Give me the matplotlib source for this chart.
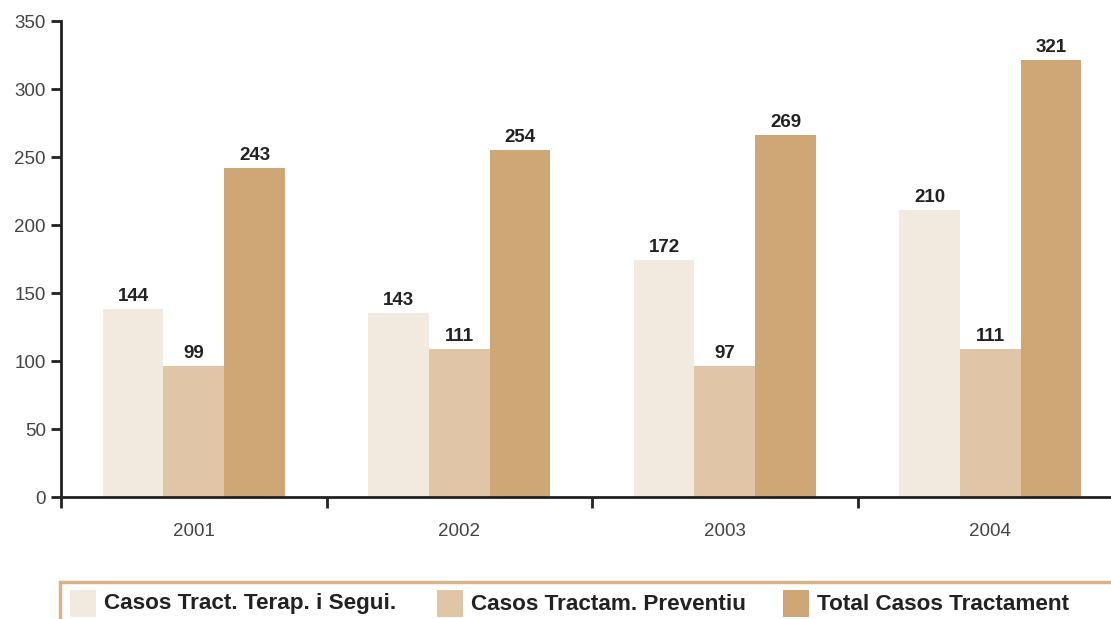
import numpy as np
import matplotlib
matplotlib.use('Agg')
import matplotlib.pyplot as plt
from matplotlib.patches import Rectangle

plt.rcParams['font.family'] = ['Liberation Sans', 'DejaVu Sans']

years = ['2001', '2002', '2003', '2004']
series = ['Casos Tract. Terap. i Segui.', 'Casos Tractam. Preventiu', 'Total Casos Tractament']
# printed values
labels_terap = [144, 143, 172, 210]
labels_prev = [99, 111, 97, 111]
labels_total = [243, 254, 269, 321]
# bar heights as drawn in the source chart
heights_terap = [138, 135, 174, 211]
heights_prev = [96, 109, 96, 109]
heights_total = [242, 255, 266, 321]

colors = ['#F2EADF', '#E0C5A6', '#CFA676']

W, H = 1111, 619
fig = plt.figure(figsize=(W / 100, H / 100), dpi=100)
ax = fig.add_axes([61 / W, (H - 497) / H, 1062 / W, 476 / H])

x = np.arange(len(years))
bw = 0.229
heights = [heights_terap, heights_prev, heights_total]
labels = [labels_terap, labels_prev, labels_total]
for i in range(3):
    pos = x + (i - 1) * bw
    ax.bar(pos, heights[i], width=bw, color=colors[i], linewidth=0)
    for xp, h, lab in zip(pos, heights[i], labels[i]):
        ax.annotate(str(lab), (xp, h), xytext=(0, 3), textcoords='offset points',
                    ha='center', va='bottom', fontsize=13.5, fontweight='bold',
                    color='#222222')

ax.set_xlim(-0.5, len(years) - 0.5)
ax.set_ylim(0, 350)
ax.set_yticks(range(0, 351, 50))
ax.set_xticks(x)
ax.set_xticklabels(years)
ax.set_xticks(np.arange(-0.5, len(years)), minor=True)
ax.tick_params(axis='x', which='major', length=0, pad=19, labelsize=13.5, labelcolor='#444444')
ax.tick_params(axis='x', which='minor', length=8, width=2, color='#222222', direction='out')
ax.tick_params(axis='y', length=7, width=2, color='#222222', labelsize=13.5,
               labelcolor='#444444', pad=4)
for s in ['top', 'right']:
    ax.spines[s].set_visible(False)
for s in ['left', 'bottom']:
    ax.spines[s].set_linewidth(2)
    ax.spines[s].set_color('#222222')

# legend box
fig.patches.append(Rectangle((60 / W, -0.05), 1.2, (H - 582) / H + 0.05,
                             transform=fig.transFigure, facecolor='none',
                             edgecolor='#D9B48A', linewidth=2.5))
leg_x = [70, 437, 783]
for lx, name, c in zip(leg_x, series, colors):
    fig.patches.append(Rectangle((lx / W, (H - 617) / H), 26 / W, 27 / H,
                                 transform=fig.transFigure, facecolor=c, edgecolor='none'))
    fig.text((lx + 34) / W, (H - 604) / H, name, fontsize=16.2, fontweight='bold',
             color='#222222', va='center', ha='left')

fig.savefig('out.png', dpi=100)
